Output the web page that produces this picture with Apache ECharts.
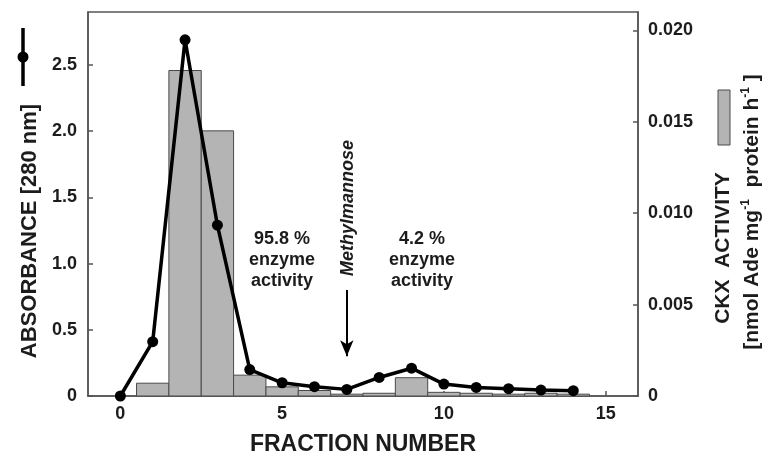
<!DOCTYPE html>
<html>
<head>
<meta charset="utf-8">
<script src="https://cdn.jsdelivr.net/npm/echarts@6.0.0/dist/echarts.min.js"></script>
<style>
html,body{margin:0;padding:0;background:#fff;}
#chart{width:770px;height:461px;}
</style>
</head>
<body>
<div id="chart"></div>
<script>
// Data
const fractions = [0,1,2,3,4,5,6,7,8,9,10,11,12,13,14];
const absorbance = [0.0,0.41,2.69,1.29,0.20,0.10,0.07,0.05,0.14,0.21,0.09,0.065,0.055,0.045,0.04];
const barFractions = [1,2,3,4,5,6,7,8,9,10,11,12,13,14];
const ckxActivity = [0.0007,0.0178,0.0145,0.00114,0.0005,0.0003,0.0001,0.00015,0.001,0.0002,0.00015,0.0001,0.00015,0.0001];
const xTicks = [0,5,10,15];
const annotations = ['95.8 %\nenzyme\nactivity','4.2 %\nenzyme\nactivity'];
const markerLabel = 'Methylmannose';
const markerFraction = 7;

const FONT = '"Liberation Sans", Arial, sans-serif';
const TXT = '#1c1c1c';
const AX = '#555';

const chart = echarts.init(document.getElementById('chart'), null, {renderer:'canvas'});

const option = {
  animation: false,
  backgroundColor: '#fff',
  grid: {left: 88, right: 132, top: 12, bottom: 64, show: true, borderColor: AX, borderWidth: 1.5, backgroundColor: 'transparent'},
  xAxis: {
    type: 'value', min: -1, max: 16,
    name: 'FRACTION NUMBER', nameLocation: 'middle', nameGap: 37,
    nameTextStyle: {fontFamily: FONT, fontWeight: 'bold', fontSize: 23, color: TXT},
    axisLine: {show: true, onZero: false, lineStyle: {color: AX, width: 1.5}},
    axisTick: {show: true, inside: true, length: 5, customValues: xTicks, lineStyle: {color: AX, width: 1.5}},
    axisLabel: {customValues: xTicks, fontFamily: FONT, fontWeight: 'bold', fontSize: 18, color: TXT, margin: 9},
    splitLine: {show: false}
  },
  yAxis: [
    {
      type: 'value', min: 0, max: 2.9, interval: 0.5, position: 'left',
      axisLine: {show: true, onZero: false, lineStyle: {color: AX, width: 1.5}},
      axisTick: {show: true, inside: true, length: 5, lineStyle: {color: AX, width: 1.5}},
      axisLabel: {showMaxLabel: false, fontFamily: FONT, fontWeight: 'bold', fontSize: 18, color: TXT, margin: 11,
        formatter: v => v === 0 ? '0' : v.toFixed(1)},
      splitLine: {show: false}
    },
    {
      type: 'value', min: 0, max: 0.021, interval: 0.005, position: 'right',
      axisLine: {show: true, onZero: false, lineStyle: {color: AX, width: 1.5}},
      axisTick: {show: true, inside: true, length: 5, lineStyle: {color: AX, width: 1.5}},
      axisLabel: {showMaxLabel: false, fontFamily: FONT, fontWeight: 'bold', fontSize: 18, color: TXT, margin: 10,
        formatter: v => v === 0 ? '0' : v.toFixed(3)},
      splitLine: {show: false}
    }
  ],
  series: [
    {
      type: 'custom', xAxisIndex: 0, yAxisIndex: 1, z: 2,
      data: barFractions.map((f, i) => [f, ckxActivity[i]]),
      renderItem: function (params, api) {
        const x = api.value(0), v = api.value(1);
        const p0 = api.coord([x - 0.5, v]);
        const p1 = api.coord([x + 0.5, 0]);
        return {type: 'rect', shape: {x: p0[0], y: p0[1], width: p1[0] - p0[0], height: p1[1] - p0[1]},
          style: {fill: '#b4b4b4', stroke: '#4a4a4a', lineWidth: 1}};
      }
    },
    {
      type: 'line', xAxisIndex: 0, yAxisIndex: 0, z: 5,
      data: fractions.map((f, i) => [f, absorbance[i]]),
      symbol: 'circle', symbolSize: 11, showSymbol: true,
      itemStyle: {color: '#000'},
      lineStyle: {color: '#000', width: 3.5},
      markLine: {
        silent: true, symbol: ['none', 'arrow'], symbolSize: [10, 16],
        label: {show: false},
        lineStyle: {color: '#000', width: 2, type: 'solid'},
        data: [[{coord: [markerFraction, 0.80]}, {coord: [markerFraction, 0.30]}]]
      }
    }
  ],
  graphic: [
    {type: 'line', shape: {x1: 23, y1: 28, x2: 23, y2: 86}, style: {stroke: '#000', lineWidth: 3.5}},
    {type: 'circle', shape: {cx: 23, cy: 57, r: 5.5}, style: {fill: '#000'}},
    {type: 'text', x: 30, y: 231, rotation: Math.PI / 2,
      style: {text: 'ABSORBANCE [280 nm]', font: 'bold 22px ' + FONT, fill: TXT, align: 'center', verticalAlign: 'middle'}},
    {type: 'rect', shape: {x: 718, y: 90, width: 12, height: 55}, style: {fill: '#b4b4b4', stroke: '#4a4a4a', lineWidth: 1}},
    {type: 'text', x: 723, y: 248, rotation: Math.PI / 2,
      style: {text: 'CKX  ACTIVITY', font: 'bold 21px ' + FONT, fill: TXT, align: 'center', verticalAlign: 'middle'}},
    {type: 'text', x: 752, y: 212, rotation: Math.PI / 2,
      style: {text: '[nmol Ade mg{s|-1}  protein h{s|-1} ]', font: 'bold 21px ' + FONT, fill: TXT, align: 'center', verticalAlign: 'middle',
        rich: {s: {font: 'bold 12px ' + FONT, fill: TXT, verticalAlign: 'top', lineHeight: 24}}}},
    {type: 'text', x: 282, y: 260,
      style: {text: annotations[0], font: 'bold 18px ' + FONT, fill: TXT, align: 'center', verticalAlign: 'middle', lineHeight: 21}},
    {type: 'text', x: 422, y: 260,
      style: {text: annotations[1], font: 'bold 18px ' + FONT, fill: TXT, align: 'center', verticalAlign: 'middle', lineHeight: 21}},
    {type: 'text', x: 348, y: 208, rotation: Math.PI / 2,
      style: {text: markerLabel, font: 'italic bold 18px ' + FONT, fill: TXT, align: 'center', verticalAlign: 'middle'}}
  ]
};
chart.setOption(option);
</script>
</body>
</html>
